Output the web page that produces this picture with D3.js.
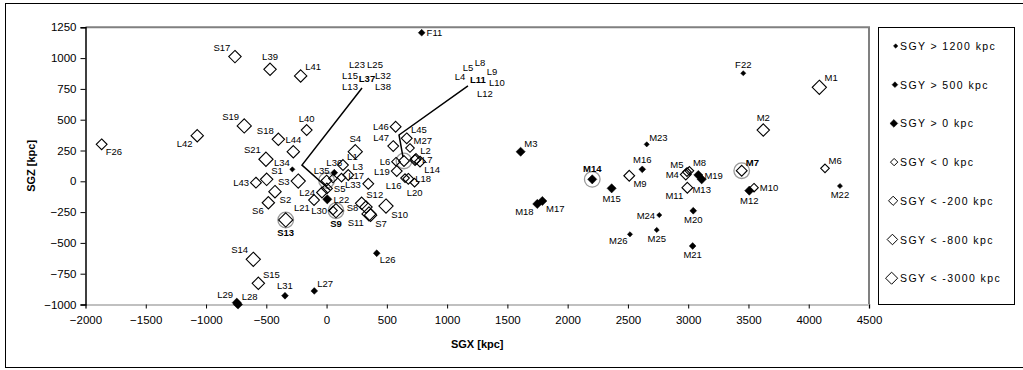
<!DOCTYPE html>
<html>
<head>
<meta charset="utf-8">
<script src="https://cdn.jsdelivr.net/npm/d3@7"></script>
<style>
  body { margin: 0; background: #fff; }
  svg text { font-family: "Liberation Sans", Arial, sans-serif; fill: #000; }
</style>
</head>
<body>
<svg id="chart" width="1023" height="370"></svg>
<script>
// galaxies: name, SGX, SGZ (kpc) and SGY class (index into legendLabels)
const names = ["F26","L42","S17","S19","L43","S18","S21","S1","S2","S6",
  "L34","L40","L44","S3","L39","L41","S4","L46","L47","L45",
  "S13","S9","L26","S15","L31","L27","S14","L29","L28","F11",
  "F22","M1","M2","M3","M23","M14","M16","M9","M4","M5",
  "M8","M19","M13","M11","M7","M10","M12","M15","M18","M17",
  "M24","M20","M26","M25","M21","M22","M6","L22","L24","L21",
  "L30","S5","L3","L33","L1","L36","L35","L2","L7","L14",
  "M27","L6","L19","L16","L18","L20","L17","S12","S8","S11",
  "S7","S10"];
const sgx = [-1866,-1073,-760,-683,-586,-400,-503,-497,-428,-483,
  -284,-165,-276,-235,-469,-215,238,573,553,665,
  -339,78,416,-566,-345,-102,-608,-745,-735,789,
  3457,4088,3623,1610,2656,2204,2619,2511,2980,2990,
  3010,3084,3112,2993,3444,3546,3507,2365,1748,1790,
  2760,3042,2517,2739,3037,4259,4135,6,-38,-104,
  53,3,180,124,136,64,53,742,734,775,
  692,576,582,651,678,730,346,291,327,352,
  365,493];
const sgz = [300,370,1012,449,-11,341,179,16,-84,-174,
  97,416,240,2,909,855,240,443,286,349,
  -314,-239,-584,-828,-929,-890,-633,-985,-1000,1206,
  877,763,416,240,300,16,97,45,55,75,
  85,51,16,-52,86,-52,-76,-57,-184,-160,
  -274,-239,-430,-395,-525,-38,105,-146,-91,-152,
  -237,-58,51,30,132,70,23,181,173,160,
  270,159,83,26,20,-11,-20,-179,-209,-265,
  -275,-201];
const sgyClass = [4,5,5,6,4,5,6,5,5,5,
  0,4,5,6,5,5,6,4,4,4,
  6,6,1,5,1,1,6,2,2,1,
  0,6,5,2,0,2,1,4,4,3,
  3,2,2,4,4,3,2,2,2,2,
  0,1,0,0,1,0,3,2,4,4,
  3,4,4,3,4,1,3,4,4,4,
  3,3,4,3,4,3,4,5,5,6,
  5,6];

// galaxies drawn with bold label and grey ring
const highlighted = ["S13","S9","M14","M7"];

// groups that share a position, named via a leader line
const groupNames = ["L37","L11"];
const groupSgx = [0,642];
const groupSgz = [6,165];
const groupMembers = [
  ["L23","L25","L15","L37","L32","L13","L38"],
  ["L5","L8","L9","L4","L11","L10","L12"]
];
// leader lines: label end, elbow, tip (kpc)
const leaderSgx = [[294,-204,28],[1173,601,634]];
const leaderSgz = [[757,132,-71],[774,376,197]];

const legendLabels = ["SGY > 1200 kpc","SGY > 500 kpc","SGY > 0 kpc","SGY < 0 kpc",
  "SGY < -200 kpc","SGY < -800 kpc","SGY < -3000 kpc"];
const xTicks = [-2000,-1500,-1000,-500,0,500,1000,1500,2000,2500,3000,3500,4000,4500];
const yTicks = [-1000,-750,-500,-250,0,250,500,750,1000,1250];

// --- styling / layout ---
const markerHalf = [2.6, 3.4, 4.6, 4.3, 5.4, 6.2, 7.1];
const filled = [true, true, true, false, false, false, false];
const labelSide = {
  F26:"br",L42:"bl",S17:"tl",S19:"tl",L43:"l",S18:"tl",S21:"tl",S1:"tr",S2:"br",S6:"bl",
  L34:"tl",L40:"t",L44:"t",S3:"l",L39:"t",L41:"tr",S4:"t",L46:"l",L47:"tl",L45:"tr",
  S13:"b",S9:"b",L26:"br",S15:"tr",L31:"t",L27:"tr",S14:"tl",L29:"tl",L28:"tr",F11:"r",
  F22:"t",M1:"tr",M2:"t",M3:"tr",M23:"tr",M14:"t",M16:"t",M9:"br",M4:"l",M5:"tl",
  M8:"tr",M19:"r",M13:"b",M11:"bl",M7:"tr",M10:"r",M12:"b",M15:"b",M18:"bl",M17:"br",
  M24:"l",M20:"b",M26:"bl",M25:"b",M21:"b",M22:"b",M6:"tr",L22:"r",L24:"l",L21:"bl",
  L30:"l",S5:"r",L3:"tr",L33:"br",L1:"tr",L36:"t",L35:"tl",L2:"tr",L7:"r",L14:"br",
  M27:"tr",L6:"l",L19:"l",L16:"bl",L18:"r",L20:"b",L17:"tl",S12:"tr",S8:"l",S11:"bl",
  S7:"br",S10:"br"
};
// text offsets (px) of group member names from the leader line end
const groupLabelDx = [[-5,13,-12,5,21,-12,21],[0,12,24,-8,10,29,17]];
const groupLabelDy = [[-24,-24,-13,-10,-13,-2,-2],[-18,-23,-14,-9,-6,-3,8]];

const svg = d3.select("#chart");

// chart frame
svg.append("rect")
  .attr("x", 5.5).attr("y", 3.5)
  .attr("width", 1030).attr("height", 364)
  .attr("fill", "none").attr("stroke", "#000").attr("stroke-width", 1);

const x = d3.scaleLinear().domain([-2000, 4500]).range([85.5, 869]);
const y = d3.scaleLinear().domain([-1000, 1250]).range([304.5, 27.3]);

const plot = svg.append("g");

// plot area border (top / right)
plot.append("path")
  .attr("d", `M${x(-2000)},${y(1250)}H${x(4500)}V${y(-1000)}`)
  .attr("fill", "none").attr("stroke", "#808080").attr("stroke-width", 2);

// x axis
const xAxis = plot.append("g")
  .attr("transform", `translate(0,${y(-1000)})`)
  .call(d3.axisBottom(x).tickValues(xTicks).tickSize(4).tickPadding(7).tickFormat(d3.format("d")));
xAxis.select(".domain").attr("stroke", "#c0c0c0").attr("stroke-width", 2);
xAxis.selectAll(".tick line").attr("stroke", "#000");
xAxis.selectAll("text").style("font-size", "11.5px");

// y axis
const yAxis = plot.append("g")
  .attr("transform", `translate(${x(-2000)},0)`)
  .call(d3.axisLeft(y).tickValues(yTicks).tickSize(5).tickPadding(4).tickFormat(d3.format("d")));
yAxis.select(".domain").attr("stroke", "#000").attr("stroke-width", 1.5);
yAxis.selectAll("text").style("font-size", "11.5px");
yAxis.selectAll(".tick line").attr("stroke", "#000");

svg.append("text")
  .attr("x", x(1250)).attr("y", 348)
  .attr("text-anchor", "middle")
  .style("font-size", "11px").style("font-weight", "bold")
  .text("SGX [kpc]");
svg.append("text")
  .attr("transform", `translate(35,${(y(1250) + y(-1000)) / 2}) rotate(-90)`)
  .attr("text-anchor", "middle")
  .style("font-size", "11px").style("font-weight", "bold")
  .text("SGZ [kpc]");

function diamond(h) {
  return `M0,${-h}L${h},0L0,${h}L${-h},0Z`;
}

const data = names.map((n, i) => ({ name: n, sx: sgx[i], sz: sgz[i], c: sgyClass[i] }));
groupNames.forEach((n, i) => data.push({ name: n, sx: groupSgx[i], sz: groupSgz[i], c: 4, group: true }));

// grey rings behind highlighted galaxies
const ringed = data.filter(d => highlighted.includes(d.name) || d.group);
plot.selectAll(".ring")
  .data(ringed)
  .join("circle")
  .attr("class", "ring")
  .attr("cx", d => x(d.sx)).attr("cy", d => y(d.sz))
  .attr("r", 7.8)
  .attr("fill", "none").attr("stroke", "#9a9a9a").attr("stroke-width", 1.3);

// leader lines
plot.selectAll(".leader")
  .data(leaderSgx.map((xs, i) => xs.map((v, j) => [v, leaderSgz[i][j]])))
  .join("path")
  .attr("class", "leader")
  .attr("d", d3.line().x(p => x(p[0])).y(p => y(p[1])))
  .attr("fill", "none").attr("stroke", "#000").attr("stroke-width", 1.5);

// markers
plot.selectAll(".pt")
  .data(data)
  .join("path")
  .attr("class", "pt")
  .attr("transform", d => `translate(${x(d.sx)},${y(d.sz)})`)
  .attr("d", d => diamond(markerHalf[d.c]))
  .attr("fill", d => filled[d.c] ? "#000" : "none")
  .attr("stroke", "#000")
  .attr("stroke-width", d => filled[d.c] ? 0.5 : 1.1);

// point labels
function labelPos(d) {
  const px = x(d.sx), py = y(d.sz);
  const k = markerHalf[d.c] + 1.5;
  const side = labelSide[d.name] || "r";
  const m = k * 0.6;
  switch (side) {
    case "r":  return [px + k, py + 3.5, "start"];
    case "l":  return [px - k, py + 3.5, "end"];
    case "t":  return [px, py - k - 1.5, "middle"];
    case "b":  return [px, py + k + 7.5, "middle"];
    case "tr": return [px + m, py - m - 1, "start"];
    case "tl": return [px - m, py - m - 1, "end"];
    case "br": return [px + m, py + m + 7, "start"];
    default:   return [px - m, py + m + 7, "end"];
  }
}
const pointLabels = data.filter(d => !d.group);
plot.selectAll(".lbl")
  .data(pointLabels)
  .join("text")
  .attr("class", "lbl")
  .attr("x", d => labelPos(d)[0])
  .attr("y", d => labelPos(d)[1])
  .attr("text-anchor", d => labelPos(d)[2])
  .style("font-size", "9.5px")
  .style("font-weight", d => highlighted.includes(d.name) ? "bold" : "normal")
  .text(d => d.name);

// group labels around leader line ends
groupMembers.forEach((members, gi) => {
  const ox = x(leaderSgx[gi][0]), oy = y(leaderSgz[gi][0]);
  plot.selectAll(".glbl" + gi)
    .data(members)
    .join("text")
    .attr("class", "glbl" + gi)
    .attr("x", (m, j) => ox + groupLabelDx[gi][j])
    .attr("y", (m, j) => oy + groupLabelDy[gi][j] + 3.5)
    .attr("text-anchor", "middle")
    .style("font-size", "9.5px")
    .style("font-weight", m => m === groupNames[gi] ? "bold" : "normal")
    .text(m => m);
});

// legend
const legend = svg.append("g");
legend.append("rect")
  .attr("x", 878.5).attr("y", 27.5)
  .attr("width", 136).attr("height", 277)
  .attr("fill", "#fff").attr("stroke", "#000").attr("stroke-width", 1);
const items = legend.selectAll(".item")
  .data(legendLabels)
  .join("g")
  .attr("class", "item")
  .attr("transform", (d, i) => `translate(0,${46 + i * 38.7})`);
items.append("path")
  .attr("transform", (d, i) => `translate(${898 - markerHalf[i] * 0.9},0)`)
  .attr("d", (d, i) => diamond(markerHalf[i] * 0.85))
  .attr("fill", (d, i) => filled[i] ? "#000" : "none")
  .attr("stroke", "#000")
  .attr("stroke-width", (d, i) => filled[i] ? 0.5 : 1);
items.append("text")
  .attr("x", 900).attr("y", 4)
  .style("font-size", "10.5px")
  .style("letter-spacing", "1.4px")
  .text(d => d);
</script>
</body>
</html>
